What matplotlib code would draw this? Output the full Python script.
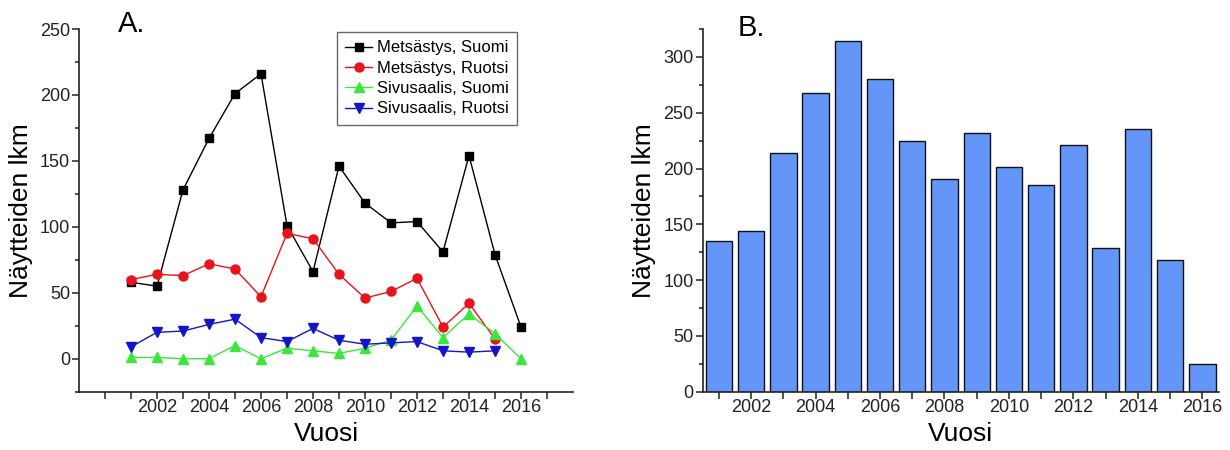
import matplotlib
matplotlib.use("Agg")
import matplotlib.pyplot as plt
from matplotlib.ticker import MultipleLocator, FixedLocator, FuncFormatter

plt.rcParams['font.family'] = ['Liberation Sans', 'DejaVu Sans']

# ---- data ----
years = list(range(2001, 2017))
metsastys_suomi = [58, 55, 128, 167, 201, 216, 101, 66, 146, 118, 103, 104, 81, 154, 79, 24]
years_ruotsi = list(range(2001, 2016))
metsastys_ruotsi = [60, 64, 63, 72, 68, 47, 95, 91, 64, 46, 51, 61, 24, 42, 15]
sivusaalis_suomi = [1, 1, 0, 0, 10, 0, 8, 6, 4, 8, 14, 40, 16, 34, 19, 0]
sivusaalis_ruotsi = [9, 20, 21, 26, 30, 16, 13, 23, 14, 11, 12, 13, 6, 5, 6]
totals = [135, 144, 214, 268, 314, 280, 225, 191, 232, 201, 185, 221, 129, 235, 118, 25]

labels = ["Metsästys, Suomi", "Metsästys, Ruotsi", "Sivusaalis, Suomi", "Sivusaalis, Ruotsi"]
ylabel = "Näytteiden lkm"
xlabel = "Vuosi"

W, H = 1230, 450
fig = plt.figure(figsize=(W / 100, H / 100), dpi=100)

def ax_rect(l, r, t, b):
    return [l / W, 1 - b / H, (r - l) / W, (b - t) / H]

def even_fmt(v, pos):
    v = int(round(v))
    return str(v) if (v % 2 == 0 and 2002 <= v <= 2016) else ""

# ---- Panel A ----
axA = fig.add_axes(ax_rect(79, 573, 29, 391.7))
axA.plot(years, metsastys_suomi, color='black', marker='s', markersize=5.5, lw=1, label=labels[0])
axA.plot(years_ruotsi, metsastys_ruotsi, color='#E8141B', marker='o', markersize=6.5, lw=1, label=labels[1])
axA.plot(years, sivusaalis_suomi, color='#3CE63C', marker='^', markersize=7, lw=1, label=labels[2])
axA.plot(years_ruotsi, sivusaalis_ruotsi, color='#1515C8', marker='v', markersize=7, lw=1, label=labels[3])
axA.set_xlim(1999, 2018)
axA.set_ylim(-25, 250)
axA.xaxis.set_major_locator(FixedLocator(list(range(2000, 2018))))
axA.xaxis.set_major_formatter(FuncFormatter(even_fmt))
axA.yaxis.set_major_locator(MultipleLocator(50))
axA.yaxis.set_minor_locator(MultipleLocator(25))
leg = axA.legend(loc='upper left', bbox_to_anchor=((337 - 79) / 494, (391.7 - 32) / 362.7),
                 fontsize=12, frameon=True, fancybox=False, edgecolor='#444444',
                 handlelength=1.6, handletextpad=0.3, labelspacing=0.32, borderpad=0.5,
                 borderaxespad=0)
leg.get_frame().set_linewidth(1.0)
axA.text((118 - 79) / 494, (391.7 - 32.3) / 362.7, "A.", transform=axA.transAxes,
         fontsize=21, ha='left', va='baseline')

# ---- Panel B ----
axB = fig.add_axes(ax_rect(702.7, 1218.5, 29, 391.7))
axB.bar(years, totals, width=0.82, color='#6495F8', edgecolor='#111111', linewidth=1)
axB.set_xlim(2000.5, 2016.5)
axB.set_ylim(0, 325)
axB.xaxis.set_major_locator(FixedLocator(years))
axB.xaxis.set_major_formatter(FuncFormatter(even_fmt))
axB.yaxis.set_major_locator(MultipleLocator(50))
axB.yaxis.set_minor_locator(MultipleLocator(25))
axB.text((738 - 702.7) / 515.8, (391.7 - 36) / 362.7, "B.", transform=axB.transAxes,
         fontsize=21, ha='left', va='baseline')

for ax in (axA, axB):
    for s in ('top', 'right'):
        ax.spines[s].set_visible(False)
    for s in ('left', 'bottom'):
        ax.spines[s].set_linewidth(1.2)
        ax.spines[s].set_color('#222222')
    ax.tick_params(axis='both', which='major', direction='out', length=5, width=1.1,
                   labelsize=13, colors='#222222', pad=1.5)
    ax.tick_params(axis='x', which='major', pad=0.5)
    ax.tick_params(axis='y', which='minor', direction='out', length=3, width=1.1, colors='#222222')
    ax.set_xlabel(xlabel, fontsize=19, labelpad=4)
    ax.set_ylabel(ylabel, fontsize=19, labelpad=5)

fig.savefig("out.png", dpi=100)
